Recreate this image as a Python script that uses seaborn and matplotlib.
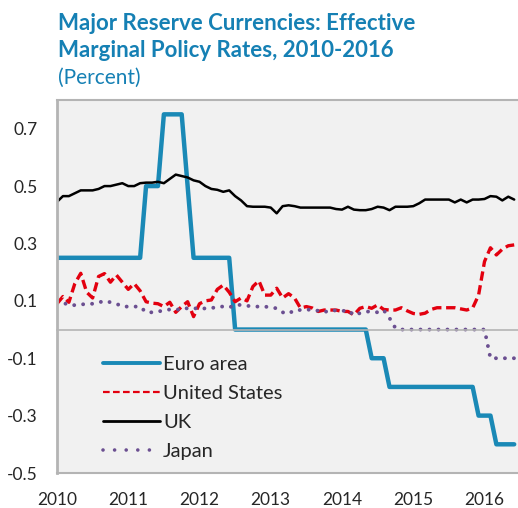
import numpy as np
import pandas as pd
import seaborn as sns
import matplotlib.pyplot as plt
from matplotlib.lines import Line2D

# monthly observations, Jan 2010 - Jun 2016
dates = pd.date_range("2010-01-01", "2016-06-01", freq="MS")

euro_area = [0.25, 0.25, 0.25, 0.25, 0.25, 0.25, 0.25, 0.25, 0.25, 0.25, 0.25, 0.25,
             0.25, 0.25, 0.25, 0.50, 0.50, 0.50, 0.75, 0.75, 0.75, 0.75, 0.50, 0.25,
             0.25, 0.25, 0.25, 0.25, 0.25, 0.25, 0.00, 0.00, 0.00, 0.00, 0.00, 0.00,
             0.00, 0.00, 0.00, 0.00, 0.00, 0.00, 0.00, 0.00, 0.00, 0.00, 0.00, 0.00,
             0.00, 0.00, 0.00, 0.00, 0.00, -0.10, -0.10, -0.10, -0.20, -0.20, -0.20, -0.20,
             -0.20, -0.20, -0.20, -0.20, -0.20, -0.20, -0.20, -0.20, -0.20, -0.20, -0.20, -0.30,
             -0.30, -0.30, -0.40, -0.40, -0.40, -0.40]

united_states = [0.090, 0.115, 0.095, 0.160, 0.196, 0.130, 0.110, 0.185, 0.195, 0.165, 0.190, 0.165,
                 0.140, 0.160, 0.135, 0.097, 0.092, 0.090, 0.080, 0.095, 0.060, 0.080, 0.097, 0.045,
                 0.090, 0.100, 0.103, 0.140, 0.155, 0.130, 0.097, 0.110, 0.100, 0.150, 0.170, 0.120,
                 0.120, 0.144, 0.110, 0.125, 0.110, 0.075, 0.080, 0.075, 0.063, 0.068, 0.068, 0.068,
                 0.063, 0.063, 0.051, 0.074, 0.080, 0.074, 0.086, 0.070, 0.068, 0.068, 0.076, 0.065,
                 0.056, 0.053, 0.057, 0.070, 0.076, 0.076, 0.076, 0.076, 0.072, 0.068, 0.075, 0.120,
                 0.237, 0.285, 0.260, 0.280, 0.292, 0.295]

uk = [0.445, 0.465, 0.465, 0.475, 0.485, 0.485, 0.485, 0.490, 0.500, 0.500, 0.505, 0.510,
      0.500, 0.500, 0.510, 0.512, 0.512, 0.515, 0.510, 0.525, 0.540, 0.535, 0.530, 0.520,
      0.515, 0.500, 0.490, 0.487, 0.480, 0.485, 0.465, 0.450, 0.430, 0.428, 0.428, 0.428,
      0.425, 0.405, 0.430, 0.433, 0.430, 0.425, 0.425, 0.425, 0.425, 0.425, 0.425, 0.420,
      0.418, 0.428, 0.418, 0.416, 0.416, 0.420, 0.428, 0.425, 0.416, 0.428, 0.428, 0.428,
      0.430, 0.440, 0.453, 0.453, 0.453, 0.453, 0.453, 0.443, 0.453, 0.443, 0.453, 0.453,
      0.455, 0.465, 0.463, 0.450, 0.463, 0.453]

japan = [0.100, 0.094, 0.085, 0.085, 0.088, 0.088, 0.090, 0.094, 0.100, 0.095, 0.090, 0.080,
         0.080, 0.080, 0.080, 0.060, 0.060, 0.063, 0.066, 0.070, 0.071, 0.068, 0.075, 0.075,
         0.071, 0.074, 0.074, 0.080, 0.080, 0.077, 0.085, 0.086, 0.083, 0.080, 0.080, 0.080,
         0.077, 0.074, 0.060, 0.055, 0.068, 0.068, 0.068, 0.071, 0.065, 0.060, 0.068, 0.066,
         0.064, 0.068, 0.050, 0.057, 0.063, 0.062, 0.060, 0.068, 0.040, 0.005, 0.000, 0.000,
         0.000, 0.000, 0.000, 0.000, 0.000, 0.000, 0.000, 0.000, 0.000, 0.000, 0.000, 0.000,
         0.000, -0.100, -0.100, -0.100, -0.100, -0.100]

year_ticks = [2010, 2011, 2012, 2013, 2014, 2015, 2016]
y_ticks = [0.7, 0.5, 0.3, 0.1, -0.1, -0.3, -0.5]
y_labels = ["0.7", "0.5", "0.3", "0.1", "-0.1", "-0.3", "-0.5"]

df = pd.DataFrame({"year": dates.year + (dates.month - 1) / 12,
                   "Euro area": euro_area, "United States": united_states,
                   "UK": uk, "Japan": japan})

blue = "#1a89b6"
red = "#e3000f"
purple = "#6b4f91"
title_col = "#1580b4"
grey = "#b4b4b4"

sns.set_theme(style="white")
plt.rcParams["font.family"] = ["Lato", "DejaVu Sans"]

fig = plt.figure(figsize=(5.18, 5.08), dpi=100)
ax = fig.add_axes([57 / 518, 35 / 508, 461 / 518, 373 / 508])
ax.set_facecolor("#f1f1f1")

sns.lineplot(data=df, x="year", y="Euro area", ax=ax, color=blue, lw=3.2)
sns.lineplot(data=df, x="year", y="UK", ax=ax, color="black", lw=1.8)
sns.lineplot(data=df, x="year", y="United States", ax=ax, color=red, lw=2.4,
             linestyle=(0, (2.8, 1.4)))
sns.lineplot(data=df, x="year", y="Japan", ax=ax, color=purple, lw=2.8,
             linestyle=(0, (0.01, 2.3)), dash_capstyle="round")

ax.set_xlim(2010, 2016.47)
ax.set_ylim(-0.5, 0.8)
ax.set_xlabel("")
ax.set_ylabel("")

# year ticks sit on the zero line, labels sit under the plot
ax.spines["bottom"].set_position(("data", 0))
ax.set_xticks(year_ticks)
ax.tick_params(axis="x", direction="in", length=5, width=1.2, color=grey,
               labelbottom=False)
sec = ax.secondary_xaxis(0)
sec.set_xticks(year_ticks)
sec.set_xticklabels([str(y) for y in year_ticks])
sec.tick_params(length=0, pad=14, labelsize=12.5)
sec.spines["bottom"].set_color(grey)
sec.spines["bottom"].set_linewidth(1.5)

ax.set_yticks(y_ticks)
ax.set_yticklabels(y_labels)
ax.tick_params(axis="y", direction="in", length=5, width=1.2, color=grey,
               pad=14, labelsize=12.5)

ax.spines["right"].set_visible(False)
for s in ["left", "top", "bottom"]:
    ax.spines[s].set_color(grey)
ax.spines["left"].set_linewidth(2)
ax.spines["top"].set_linewidth(1.5)
ax.spines["bottom"].set_linewidth(1.2)

handles = [Line2D([], [], color=blue, lw=2.8),
           Line2D([], [], color=red, lw=1.6, linestyle=(0, (3, 1.5))),
           Line2D([], [], color="black", lw=2.0),
           Line2D([], [], color=purple, lw=2.6, linestyle=(0, (0.01, 3.2)),
                  dash_capstyle="round")]
ax.legend(handles, ["Euro area", "United States", "UK", "Japan"],
          loc="lower left", bbox_to_anchor=(0.06, -0.013), frameon=False,
          fontsize=14.5, handlelength=2.85, handletextpad=0.15, labelspacing=0.59)

fig.text(58 / 518, 1 - 30 / 508, "Major Reserve Currencies: Effective",
         color=title_col, fontsize=16, fontweight="bold", va="baseline")
fig.text(58 / 518, 1 - 57 / 508, "Marginal Policy Rates, 2010-2016",
         color=title_col, fontsize=16, fontweight="bold", va="baseline")
fig.text(58 / 518, 1 - 84 / 508, "(Percent)",
         color=title_col, fontsize=15, va="baseline")

fig.savefig("out.png", dpi=100)
